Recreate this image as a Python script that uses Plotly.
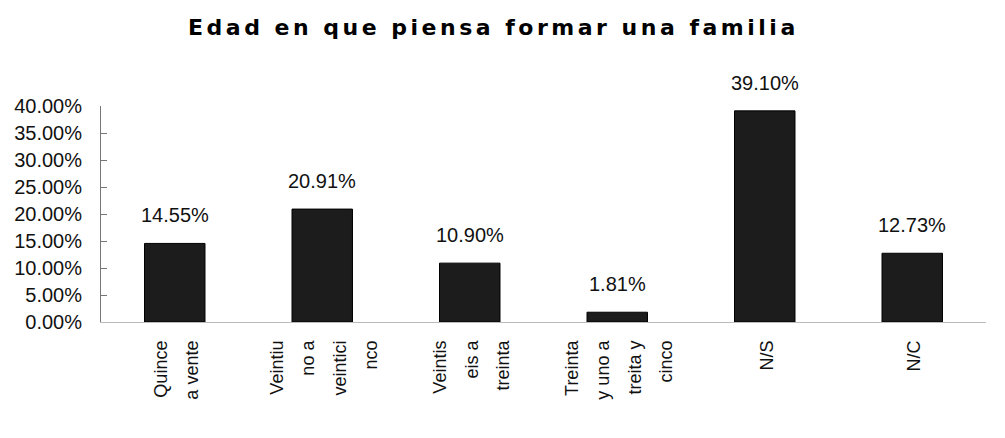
import plotly.graph_objects as go

categories = ["Quince<br>a vente", "Veintiu<br>no a<br>veintici<br>nco", "Veintis<br>eis a<br>treinta",
              "Treinta<br>y uno a<br>treita y<br>cinco", "N/S", "N/C"]
values = [0.1455, 0.2091, 0.1090, 0.0181, 0.3910, 0.1273]
labels = ["14.55%", "20.91%", "10.90%", "1.81%", "39.10%", "12.73%"]
y_ticks = [0, 0.05, 0.10, 0.15, 0.20, 0.25, 0.30, 0.35, 0.40]

tick_text = ["<br>".join('<span style="font-size:18px">%s</span>' % ln for ln in c.split("<br>"))
             for c in categories]

fig = go.Figure()
fig.add_trace(go.Bar(
    x=categories, y=values,
    marker=dict(color="#1c1c1c", line=dict(color="#000000", width=1)),
    width=0.41,
    cliponaxis=False,
))
for c, v, t in zip(categories, values, labels):
    fig.add_annotation(x=c, y=v, text=t, showarrow=False, yanchor="bottom", yshift=15,
                       font=dict(family="Liberation Sans, Arial", size=20, color="#111"))

fig.update_layout(
    width=1005, height=438,
    paper_bgcolor="white", plot_bgcolor="white",
    margin=dict(l=93, r=27, t=98, b=124),
    showlegend=False,
    title=dict(text='<b><span style="letter-spacing:3.5px">Edad en que piensa formar una familia</span></b>',
               x=0.483, xanchor="center", y=0.955, yanchor="middle",
               font=dict(family="DejaVu Sans", size=22, color="#000")),
    font=dict(family="Liberation Sans, Arial", color="#111"),
)
fig.update_yaxes(range=[0, 0.4], tickvals=y_ticks, tickformat=".2%", automargin=False,
                 showgrid=False, zeroline=False, showline=True, linecolor="#777", linewidth=1,
                 ticks="inside", ticklen=6, tickcolor="#777", ticklabelstandoff=14,
                 tickfont=dict(size=20, color="#111"))
fig.update_xaxes(showgrid=False, showline=True, linecolor="#bbb", linewidth=1, automargin=False,
                 tickmode="array", tickvals=categories, ticktext=tick_text, ticklabelstandoff=8,
                 tickangle=-90, ticks="", tickfont=dict(size=24, color="#111"))

fig.write_html("out.html")
